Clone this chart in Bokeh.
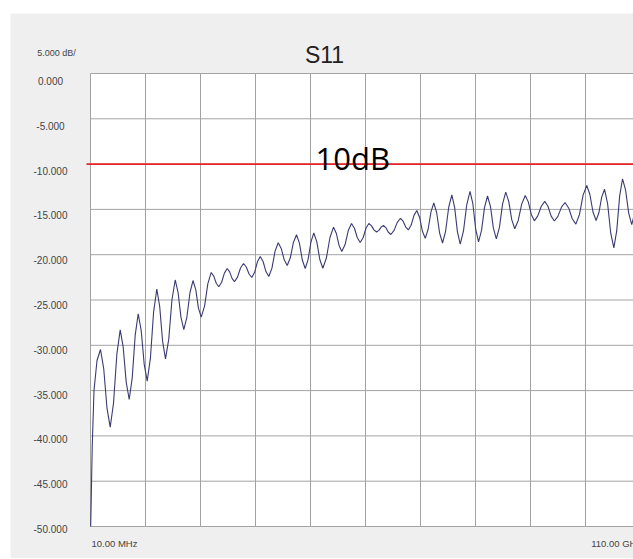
from bokeh.plotting import figure
from bokeh.models import Range1d
from bokeh.core.properties import value
from bokeh.embed import file_html
from bokeh.resources import INLINE

# Frequency (GHz) and S11 (dB)
freq_ghz = [0.05, 0.35, 0.71, 1.31, 2.01, 2.66, 3.30, 3.95, 4.62, 5.28, 5.95, 6.55, 7.15, 7.75,
            8.35, 8.95, 9.55, 10.15, 10.75, 11.35, 11.99, 12.63, 13.27, 13.85, 14.43, 15.01,
            15.66, 16.30, 16.95, 17.52, 18.10, 18.67, 19.28, 19.90, 20.51, 21.06, 21.60, 22.15,
            22.82, 23.48, 24.15, 24.66, 25.16, 25.67, 26.23, 26.79, 27.35, 27.84, 28.32, 28.81,
            29.41, 30.01, 30.61, 31.16, 31.72, 32.27, 32.83, 33.39, 33.95, 34.52, 35.10, 35.67,
            36.30, 36.92, 37.55, 38.15, 38.75, 39.35, 39.97, 40.59, 41.21, 41.79, 42.37, 42.95,
            43.52, 44.10, 44.67, 45.27, 45.87, 46.47, 47.18, 47.90, 48.61, 49.16, 49.72, 50.27,
            50.92, 51.56, 52.21, 52.79, 53.37, 53.95, 54.52, 55.10, 55.67, 56.18, 56.70, 57.21,
            57.68, 58.14, 58.61, 59.10, 59.58, 60.07, 60.72, 61.36, 62.01, 62.53, 63.05, 63.57,
            64.14, 64.70, 65.27, 65.83, 66.39, 66.95, 67.52, 68.10, 68.67, 69.25, 69.83, 70.41,
            71.03, 71.65, 72.27, 72.83, 73.39, 73.95, 74.60, 75.26, 75.91, 76.48, 77.04, 77.61,
            78.21, 78.81, 79.41, 80.00, 80.58, 81.17, 81.80, 82.42, 83.05, 83.65, 84.25, 84.85,
            85.55, 86.25, 86.95, 87.56, 88.16, 88.77, 89.46, 90.16, 90.85, 91.49, 92.13, 92.77,
            93.48, 94.20, 94.91, 95.63, 96.35, 97.07, 97.80, 98.52, 99.25, 99.87, 100.49, 101.11,
            101.68, 102.24, 102.81, 103.43, 104.05, 104.67, 105.25, 105.83, 106.41, 107.02,
            107.64, 108.25, 108.61, 110.0]
s11_db = [-50.0, -41.28, -34.99, -31.68, -30.46, -32.61, -36.90, -39.04, -36.35, -30.98, -28.29,
          -30.21, -34.06, -35.98, -33.62, -28.88, -26.52, -28.38, -32.10, -33.96, -31.42, -26.33,
          -23.79, -25.72, -29.57, -31.49, -29.32, -24.97, -22.79, -24.16, -26.89, -28.26, -26.91,
          -24.20, -22.85, -23.86, -25.89, -26.90, -25.67, -23.20, -21.96, -22.36, -23.15, -23.54,
          -23.04, -22.03, -21.52, -21.89, -22.62, -22.98, -22.48, -21.47, -20.97, -21.36, -22.13,
          -22.52, -21.94, -20.78, -20.20, -20.75, -21.86, -22.41, -21.48, -19.61, -18.68, -19.31,
          -20.56, -21.19, -20.34, -18.65, -17.80, -18.73, -20.59, -21.52, -20.54, -18.58, -17.60,
          -18.58, -20.53, -21.50, -20.37, -18.10, -16.96, -17.63, -18.98, -19.65, -18.88, -17.33,
          -16.56, -17.08, -18.13, -18.65, -18.13, -17.08, -16.56, -16.79, -17.26, -17.49, -17.31,
          -16.96, -16.78, -17.03, -17.52, -17.77, -17.32, -16.43, -15.98, -16.30, -16.95, -17.27,
          -16.73, -15.66, -15.12, -15.89, -17.42, -18.19, -17.22, -15.27, -14.29, -15.40, -17.61,
          -18.71, -17.39, -14.74, -13.41, -14.77, -17.48, -18.84, -17.38, -14.46, -13.00, -14.40,
          -17.19, -18.58, -17.32, -14.78, -13.52, -14.70, -17.07, -18.25, -16.96, -14.39, -13.10,
          -14.11, -16.13, -17.14, -16.22, -14.39, -13.47, -14.17, -15.56, -16.26, -15.72, -14.65,
          -14.11, -14.65, -15.74, -16.28, -15.77, -14.75, -14.24, -14.84, -16.03, -16.63, -15.56,
          -13.43, -12.36, -13.33, -15.26, -16.23, -15.37, -13.64, -12.78, -14.40, -17.63, -19.24,
          -17.34, -13.53, -11.62, -12.88, -15.41, -16.67, -15.89, -13.5]
assert len(freq_ghz) == len(s11_db), (len(freq_ghz), len(s11_db))

y_ticks = [0, -5, -10, -15, -20, -25, -30, -35, -40, -45, -50]
y_tick_labels = ["0.000", "-5.000", "-10.000", "-15.000", "-20.000", "-25.000",
                 "-30.000", "-35.000", "-40.000", "-45.000", "-50.000"]
f_start, f_stop = 0.01, 110.0
x_divisions = 10
threshold_db = -10
title_text = "S11"
scale_text = "5.000 dB/"
threshold_text = "10dB"
start_text = "10.00 MHz"
stop_text = "110.00 GHz"

# ---- layout (pixel geometry of the instrument screen) ----
W, H = 633, 558
grid_left_px, grid_top_px = 90, 73
grid_w_px, grid_h_px = 550, 453
fx = (f_stop - f_start) / grid_w_px     # GHz per pixel
fy = 50.0 / grid_h_px                   # dB per pixel
def X(px):   # canvas px -> GHz
    return f_start + (px - grid_left_px) * fx
def Y(py):   # canvas px -> dB
    return -(py - grid_top_px) * fy

x_ticks = [f_start + (f_stop - f_start) * k / x_divisions for k in range(x_divisions + 1)]

p = figure(width=W, height=H, output_backend="svg", toolbar_location=None,
           x_range=Range1d(X(0), X(W)), y_range=Range1d(Y(H), Y(0)),
           min_border=0, x_axis_location=None, y_axis_location=None)
p.grid.visible = False
p.outline_line_color = None
p.background_fill_color = "white"
p.border_fill_color = "white"

# gray instrument panel and white plotting area
p.quad(left=X(10), right=X(W + 20), top=Y(13), bottom=Y(H + 20),
       fill_color="#efefef", line_color=None)
p.quad(left=f_start, right=X(W + 20), top=0, bottom=-50,
       fill_color="white", line_color=None)

# graticule
grid_color = "#a3a3a3"
p.segment(x0=x_ticks, y0=[-50] * len(x_ticks), x1=x_ticks, y1=[0] * len(x_ticks),
          line_color=grid_color, line_width=1)
p.segment(x0=[f_start] * len(y_ticks), y0=y_ticks, x1=[X(W + 20)] * len(y_ticks), y1=y_ticks,
          line_color=grid_color, line_width=1)

# threshold line
p.segment(x0=[X(86)], y0=[threshold_db], x1=[X(W + 20)], y1=[threshold_db],
          line_color="#e8232a", line_width=1.6)

# trace
p.line(freq_ghz, s11_db, line_color="#3a3a72", line_width=1.1)

lab_font = value("Liberation Sans")
# y labels (sit slightly below their graticule line)
label_y = [v - (7.7 - 0.54 * k) * fy for k, v in enumerate(y_ticks)]
p.text(x=[X(50)] * len(y_ticks), y=label_y, text=y_tick_labels, text_align="center",
       text_baseline="middle", text_font=lab_font, text_font_size=value("10px"),
       text_color="#444444")

p.text(x=[X(56)], y=[Y(52)], text=[scale_text], text_align="center", text_baseline="middle",
       text_font=lab_font, text_font_size=value("9px"), text_color="#444444")
p.text(x=[X(324)], y=[Y(54)], text=[title_text], text_align="center", text_baseline="middle",
       text_font=lab_font, text_font_size=value("23px"), text_color="#222222")
p.text(x=[X(315)], y=[Y(157)], text=[threshold_text], text_align="left",
       text_baseline="alphabetic", text_font=value("Open Sans"), text_font_size=value("31px"),
       text_color="black")
p.text(x=[X(91), X(590.7)], y=[Y(542.7)] * 2, text=[start_text, stop_text], text_align="left",
       text_baseline="middle", text_font=lab_font, text_font_size=value("9.5px"),
       text_color="#444444")

open("out.html", "w").write(file_html(p, INLINE))
